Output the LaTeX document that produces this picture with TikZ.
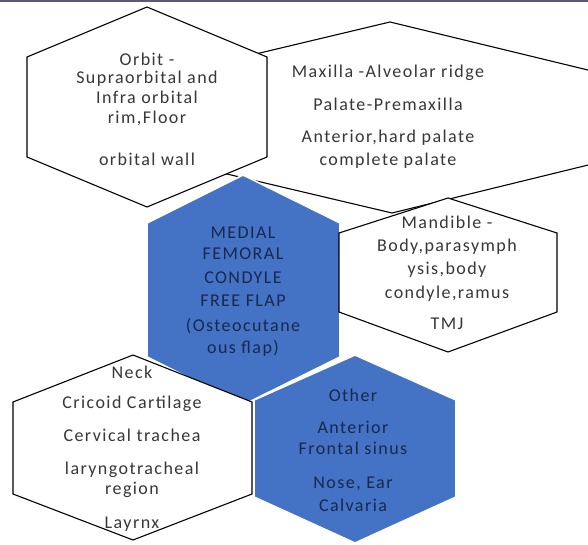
\documentclass[tikz,border=0pt]{standalone}
\usepackage{fontspec}
\setmainfont{Carlito}[LetterSpace=8]
\definecolor{hexblue}{RGB}{68,114,196}
\definecolor{wtxt}{RGB}{55,55,55}
\definecolor{btxt}{RGB}{25,40,78}
\definecolor{topbar}{RGB}{90,90,120}
\tikzset{
  whitehex/.style={fill=white,draw=black,line width=1.1pt,line join=miter},
  bluehex/.style={fill=hexblue,draw=white,line width=1.6pt,line join=miter},
  wtext/.style={anchor=base,inner sep=0pt,text=wtxt,font=\fontsize{18}{20}\selectfont},
  btext/.style={wtext,text=btxt}
}
\begin{document}
\begin{tikzpicture}[x=1pt,y=-1pt]
\useasboundingbox (0,0) rectangle (588,545);
\clip (0,0) rectangle (588,545);
\fill[white] (0,0) rectangle (588,545);
\fill[topbar] (0,0) rectangle (588,2.5);
% Maxilla
\path[whitehex] (390,22) -- (625,79) -- (625,156) -- (392,213) -- (155,157) -- (155,78) -- cycle;
% Orbit
\path[whitehex] (147,7) -- (267,57) -- (267,157) -- (147,207) -- (27,157) -- (27,57) -- cycle;
% Medial
\path[bluehex] (243,175) -- (340,223) -- (340,357) -- (243,405) -- (147,357) -- (147,223) -- cycle;
% Mandible
\path[whitehex] (448,198) -- (557,233) -- (557,312) -- (448,352) -- (339,312) -- (339,233) -- cycle;
% Other
\path[bluehex] (355,355) -- (456,400) -- (456,497) -- (355,543) -- (254,497) -- (254,400) -- cycle;
% Neck
\path[whitehex] (133,355) -- (252,402) -- (252,494) -- (133,540) -- (13,494) -- (13,402) -- cycle;
% texts
\foreach \t/\y [count=\i] in {Orbit -/66, Supraorbital and/84, Infra orbital/104, {rim,Floor}/124, orbital wall/166}
  \node[wtext] (orb\i) at (147,\y) {\t};
\foreach \t/\y [count=\i] in {Maxilla -Alveolar ridge/78, Palate-Premaxilla/111, {Anterior,hard palate}/143, complete palate/166}
  \node[wtext] (max\i) at (388,\y) {\t};
\foreach \t/\y [count=\i] in {Mandible -/228, {Body,parasymph}/251, {ysis,body}/274, {condyle,ramus}/298, TMJ/329}
  \node[wtext] (man\i) at (447,\y) {\t};
\foreach \t/\y [count=\i] in {MEDIAL/238, FEMORAL/259, CONDYLE/283, FREE FLAP/306, {(Osteocutane}/331, {ous flap)}/353}
  \node[btext] (med\i) at (243,\y) {\t};
\foreach \t/\y [count=\i] in {Neck/378, Cricoid Cartilage/408, Cervical trachea/441, laryngotracheal/474, region/494, Layrnx/528}
  \node[wtext] (nck\i) at (132,\y) {\t};
\foreach \t/\y [count=\i] in {Other/401, Anterior/433, Frontal sinus/454, {Nose, Ear}/488, Calvaria/511}
  \node[btext] (oth\i) at (353,\y) {\t};
\end{tikzpicture}
\end{document}
